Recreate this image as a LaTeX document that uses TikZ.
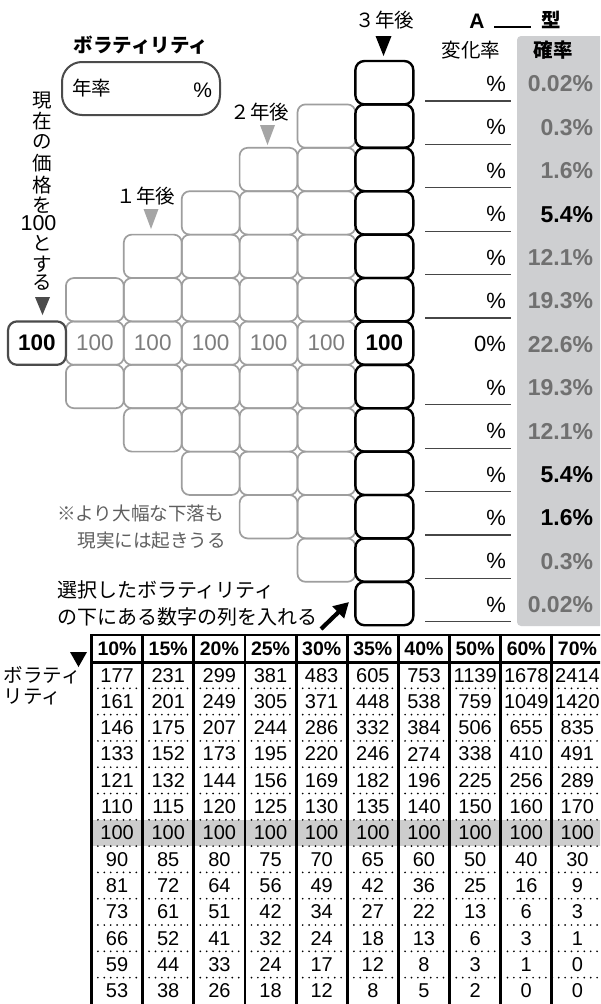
\documentclass[tikz,border=0pt]{standalone}
\usepackage{fontspec}
\setmainfont{Liberation Sans}
\newfontfamily\jp{Noto Sans CJK JP}
\usetikzlibrary{arrows.meta}
\definecolor{gline}{RGB}{158,158,158}
\definecolor{gnum}{RGB}{125,125,125}
\definecolor{dgray}{RGB}{75,75,75}
\definecolor{panel}{RGB}{206,207,209}
\definecolor{pg}{RGB}{112,112,112}
\definecolor{tgray}{RGB}{165,165,165}
\definecolor{band}{RGB}{205,205,205}
\definecolor{notec}{RGB}{95,95,95}
\definecolor{ulc}{RGB}{70,70,70}
\newcommand\myfs[1]{\fontsize{#1}{#1}\selectfont}
\newcommand\dtri[5]{\fill[#5] (#1,#2) ++({-(#3)/2},0) -- ++(#3,0) -- ++({-(#3)/2},#4) -- cycle;}
\def\tabL{91.5}
\def\tabP{51.15}
\def\tabR{26.3}
\begin{document}
\begin{tikzpicture}[x=1pt,y=-1pt,
  boxbase/.style={minimum width=57.9pt,minimum height=43.4pt,inner sep=0pt,outer sep=0pt},
  gbox/.style={boxbase,draw=gline,line width=1.7pt,rounded corners=8pt},
  bbox/.style={boxbase,draw=black,line width=2.4pt,rounded corners=9pt},
  sbox/.style={boxbase,draw=dgray,line width=2.2pt,rounded corners=9pt,font=\myfs{22.5}\bfseries},
  lbl/.style={inner sep=0pt,outer sep=0pt},
  jtxt/.style={lbl,font=\jp\myfs{19.5}},
  jbold/.style={lbl,font=\jp\bfseries\myfs{19.5}},
  gnumtxt/.style={lbl,font=\myfs{22.5},text=gnum},
  pct/.style={lbl,font=\myfs{22},anchor=east},
  prob/.style={lbl,font=\myfs{23}\bfseries,anchor=east},
  hd/.style={lbl,font=\myfs{19.5}\bfseries},
  td/.style={lbl,font=\myfs{20}},
  uline/.style={draw=ulc,line width=1.3pt},
  dotl/.style={line width=1.9pt,line cap=round,dash pattern=on 0pt off 6.4pt},
  vsep/.style={line width=2.8pt},
]
\useasboundingbox (0,0) rectangle (600,1004);
\fill[white] (0,0) rectangle (600,1004);
\begin{scope}
\clip (0,0) rectangle (600,1004);

% right grey panel
\fill[panel,rounded corners=4pt] (517,36) rectangle (612,626);

% title and volatility box
\node[jbold] (title) at (141,45) {ボラティリティ};
\node[draw=dgray,line width=2pt,rounded corners=20pt,minimum width=158pt,minimum height=53pt,inner sep=0pt] (vol) at (141,88.5) {};
\node[jtxt,anchor=west] (nen) at (72,88) {年率};
\node[lbl,font=\myfs{21},anchor=east] (volp) at (212,90) {\%};

% vertical text
\foreach \ch/\yy [count=\i] in {現/101,在/121,の/142,価/163,格/185,を/205,と/243,す/264,る/283}
  \node[jtxt] (v\i) at (42,\yy) {\ch};
\node[lbl,font=\myfs{21.5}] (v100) at (38.5,223) {100};
\dtri{42.5}{297}{15}{18}{dgray}

% year labels
\node[jtxt] (y1) at (146,196) {１年後};
\dtri{151}{209}{15}{20}{tgray}
\node[jtxt] (y2) at (260,112) {２年後};
\dtri{267.5}{125}{15}{20}{tgray}
\node[jtxt] (y3) at (385,20) {３年後};
\dtri{383.5}{36}{16}{20}{black}

% grey pyramid boxes
\foreach \j in {1,...,5} {
  \pgfmathtruncatemacro\lo{6-\j}
  \pgfmathtruncatemacro\hi{6+\j}
  \foreach \k in {\lo,...,\hi}
    \node[gbox] (g-\j-\k) at ({8+(\j+0.5)*57.9},{61+(\k+0.5)*43.4}) {};
}
\foreach \j in {1,...,5}
  \node[gnumtxt] (n-\j) at (g-\j-6) {100};

% start box
\node[sbox] (start) at ({8+0.5*57.9},{61+6.5*43.4}) {100};

% black column
\foreach \k in {0,...,12}
  \node[bbox] (c-\k) at ({8+6.5*57.9},{61+(\k+0.5)*43.4}) {};
\node[lbl,font=\myfs{22.5}\bfseries] (n-6) at (c-6) {100};

% right header
\node[lbl,font=\myfs{21}\bfseries] (A) at (477,21) {A};
\draw[line width=1.3pt] (494,27) -- (531,27);
\node[jbold] (kata) at (551,20) {型};
\node[jtxt] (hen) at (471,50) {変化率};
\node[jbold] (kaku) at (553,50) {確率};

% rows of rates and probabilities
\foreach \k/\p/\c in {0/0.02/pg,1/0.3/pg,2/1.6/pg,3/5.4/black,4/12.1/pg,5/19.3/pg,6/22.6/pg,7/19.3/pg,8/12.1/pg,9/5.4/black,10/1.6/black,11/0.3/pg,12/0.02/pg} {
  \node[pct] (pc-\k) at (506,{84+43.4*\k}) {\ifnum\k=6 0\fi\%};
  \node[prob,text=\c] (pr-\k) at (593,{84+43.4*\k}) {\p\%};
}
\foreach \k in {0,1,2,3,4,5,7,8,9,10,11,12}
  \draw[uline] (425,{101+43.4*\k}) -- (511,{101+43.4*\k});

% notes
\node[jtxt,font=\jp\myfs{18.6},text=notec,anchor=west] (note1) at (57,513) {※より大幅な下落も};
\node[jtxt,font=\jp\myfs{18.6},text=notec,anchor=east] (note2) at (226,540) {現実には起きうる};
\node[jtxt,font=\jp\myfs{20},anchor=west] (ins1) at (57,590) {選択したボラティリティ};
\node[jtxt,font=\jp\myfs{20},anchor=west] (ins2) at (57,617) {の下にある数字の列を入れる};
\coordinate (arrT) at (321,629);
\coordinate (arrH) at (349,602);
\draw[line width=4.2pt,-{Triangle[length=15pt,width=16pt]}] (arrT) -- (arrH);

% table
\fill[band] (\tabL,{662+6*\tabR}) rectangle ({\tabL+10*\tabP},{662+7*\tabR});
\foreach \r in {1,...,12}
  \draw[dotl] (\tabL,{662+\r*\tabR}) -- ({\tabL+10*\tabP},{662+\r*\tabR});
\foreach \c in {1,...,9}
  \draw[vsep] ({\tabL+\c*\tabP},635) -- ({\tabL+\c*\tabP},1010);
\draw[line width=2.6pt] (\tabL,1010) -- (\tabL,635) -- ({\tabL+10*\tabP},635) -- ({\tabL+10*\tabP},1010);
\draw[line width=3pt] (\tabL,662) -- ({\tabL+10*\tabP},662);
\foreach \v [count=\i from 0] in {10,15,20,25,30,35,40,50,60,70}
  \node[hd] (h-\i) at ({\tabL+(\i+0.5)*\tabP},649) {\v\%};
\foreach \row [count=\r from 0] in {
  {177,231,299,381,483,605,753,1139,1678,2414},
  {161,201,249,305,371,448,538,759,1049,1420},
  {146,175,207,244,286,332,384,506,655,835},
  {133,152,173,195,220,246,274,338,410,491},
  {121,132,144,156,169,182,196,225,256,289},
  {110,115,120,125,130,135,140,150,160,170},
  {100,100,100,100,100,100,100,100,100,100},
  {90,85,80,75,70,65,60,50,40,30},
  {81,72,64,56,49,42,36,25,16,9},
  {73,61,51,42,34,27,22,13,6,3},
  {66,52,41,32,24,18,13,6,3,1},
  {59,44,33,24,17,12,8,3,1,0},
  {53,38,26,18,12,8,5,2,0,0}} {
  \foreach \v [count=\c from 0] in \row
    \node[td] (d-\r-\c) at ({\tabL+(\c+0.5)*\tabP},{662+(\r+0.5)*\tabR}) {\v};
}
\dtri{78.5}{652}{17}{15}{black}
\node[jtxt,anchor=west] (tl1) at (4,675) {ボラティ};
\node[jtxt,anchor=west] (tl2) at (4,697) {リティ};
\end{scope}
\end{tikzpicture}
\end{document}
